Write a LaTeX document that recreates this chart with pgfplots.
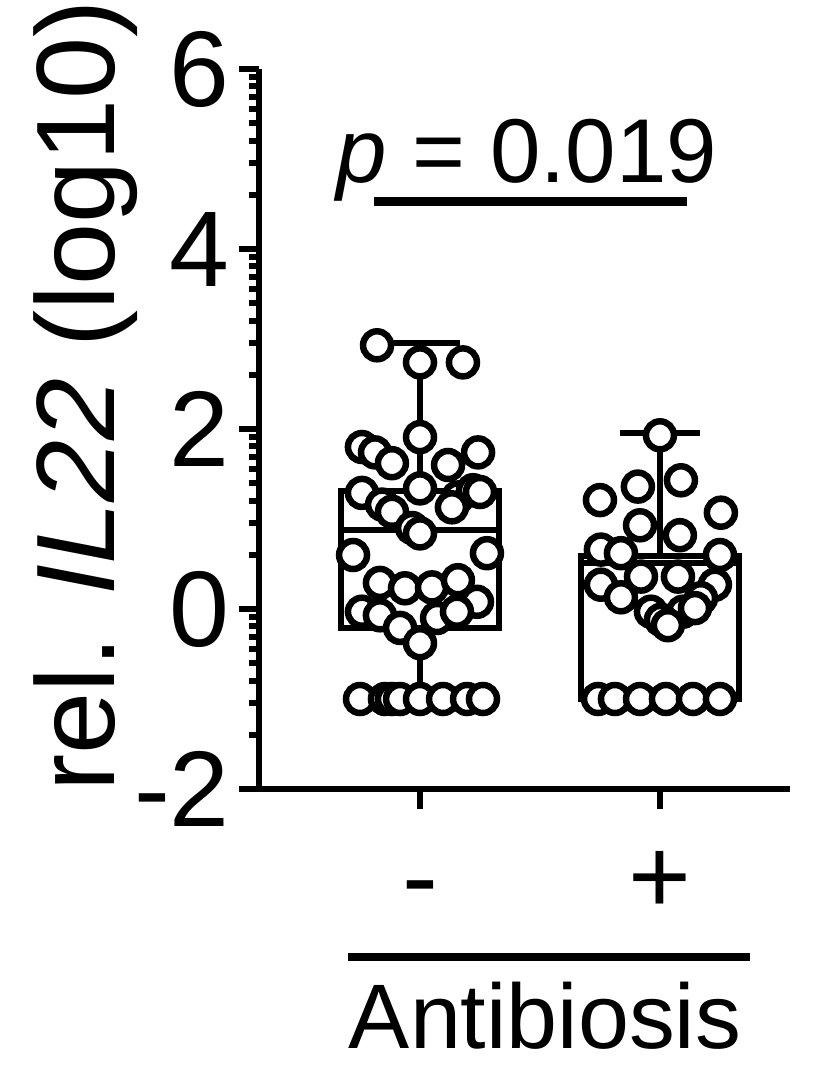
\documentclass[border=0pt]{standalone}
\usepackage{pgfplots}
\pgfplotsset{compat=1.18}
\usepgfplotslibrary{statistics}
\usepackage{fontspec}
\setmainfont{Liberation Sans}

\pgfplotstableread{
x y
0.821 2.93
1.000 2.74
1.179 2.74
1.000 1.91
0.758 1.80
0.8125 1.74
0.883 1.62
1.117 1.60
1.242 1.74
0.758 1.29
1.000 1.34
0.842 1.16
0.883 1.08
1.158 1.24
1.221 1.32
1.250 1.30
1.133 1.13
0.967 0.90
1.000 0.84
0.721 0.60
1.279 0.62
0.833 0.29
0.9375 0.23
1.050 0.24
1.158 0.32
1.2375 0.08
0.758 -0.03
0.833 -0.07
0.917 -0.21
1.071 -0.10
1.154 -0.03
1.000 -0.38
0.750 -1
0.854 -1
0.883 -1
0.917 -1
1.000 -1
1.096 -1
1.196 -1
1.2625 -1
}\minus

\pgfplotstableread{
x y
2.000 1.93
1.908 1.36
2.0875 1.43
1.750 1.21
1.917 0.93
2.083 0.82
2.254 1.07
1.754 0.66
1.8375 0.62
2.250 0.60
1.921 0.36
2.075 0.36
1.754 0.27
2.229 0.27
1.8375 0.13
2.171 0.12
1.9625 -0.03
2.096 -0.03
2.146 0.01
2.004 -0.12
2.033 -0.18
1.742 -1
1.8125 -1
1.917 -1
2.025 -1
2.1375 -1
2.250 -1
}\plus

\begin{document}
\begin{tikzpicture}
\useasboundingbox (-259bp,-279bp) rectangle (568bp,789bp);
\begin{axis}[
  at={(0bp,0bp)}, anchor=south west,
  scale only axis, width=531bp, height=720bp,
  xmin=0.329, xmax=2.542, ymin=-2, ymax=6,
  axis x line*=bottom, axis y line*=left,
  axis line style={line width=6bp, black},
  every tick/.style={line width=6bp, black},
  tick align=outside,
  major tick length=20bp, minor tick length=10bp,
  xtick={1,2}, xticklabels={-,+},
  ytick={-2,0,2,4,6}, yticklabels={-2,0,2,4,6},
  minor ytick={-1.398,-1.046,-0.796,-0.602,-0.444,-0.310,-0.194,-0.092,
    0.602,0.954,1.204,1.398,1.556,1.690,1.806,1.908,
    2.602,2.954,3.204,3.398,3.556,3.690,3.806,3.908,
    4.602,4.954,5.204,5.398,5.556,5.690,5.806,5.908},
  ticklabel style={font=\fontsize{108}{120}\selectfont},
  yticklabel style={anchor=east, inner sep=0pt, xshift=-9bp},
  xticklabel style={anchor=base, inner sep=0pt, yshift=-104bp},
  boxplot/draw direction=y,
  clip=false,
]
\addplot[boxplot prepared={draw position=1, lower whisker=-1, lower quartile=-0.21,
  median=0.88, upper quartile=1.31, upper whisker=2.96, box extend=0.66, whisker extend=0.333},
  draw=black, fill=white, line width=6bp, solid] coordinates {};
\addplot[boxplot prepared={draw position=2, lower whisker=-1, lower quartile=-1,
  median=0.51, upper quartile=0.59, upper whisker=1.96, box extend=0.66, whisker extend=0.333},
  draw=black, fill=white, line width=6bp, solid] coordinates {};
\addplot[only marks, mark=*, mark size=14bp,
  mark options={fill=white, draw=black, line width=6.5bp, solid}] table[x=x,y=y] {\minus};
\addplot[only marks, mark=*, mark size=14bp,
  mark options={fill=white, draw=black, line width=6.5bp, solid}] table[x=x,y=y] {\plus};
\end{axis}
\node[rotate=90, anchor=base, inner sep=0pt, font=\fontsize{112}{130}\selectfont] at (-144bp,393bp) {rel. \textit{IL22} (log10)};
\node[anchor=base, inner sep=0pt, font=\fontsize{91}{100}\selectfont] at (268bp,606bp) {\textit{p} = 0.019};
\draw[line width=9bp] (115bp,587bp) -- (428bp,587bp);
\draw[line width=8bp] (89bp,-168bp) -- (491bp,-168bp);
\node[anchor=base, inner sep=0pt, font=\fontsize{92}{100}\selectfont] at (286bp,-259bp) {Antibiosis};
\end{tikzpicture}
\end{document}
